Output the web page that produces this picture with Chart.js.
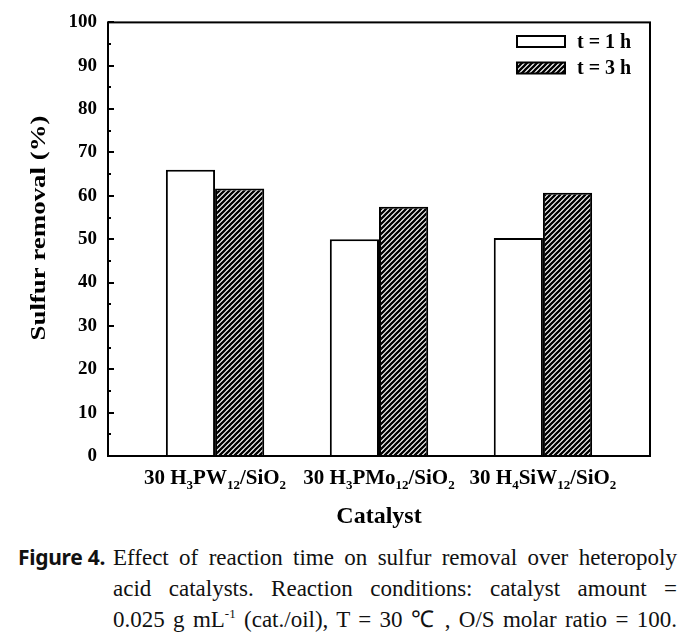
<!DOCTYPE html>
<html>
<head>
<meta charset="utf-8">
<script src="https://cdn.jsdelivr.net/npm/chart.js@4.4.1/dist/chart.umd.min.js"></script>
<style>
  html, body { margin: 0; padding: 0; background: #fff; }
  body { width: 687px; height: 642px; position: relative; overflow: hidden; }
  #wrap { position: absolute; left: 0; top: 0; width: 687px; height: 540px; }
  .cap { position: absolute; left: 113px; width: 564px; font-family: "Liberation Serif", serif;
         font-size: 23px; line-height: 23px; color: #111; text-align: justify; text-align-last: justify;
         white-space: nowrap; }
  .cap sup { font-size: 13px; line-height: 0; vertical-align: 9px; }
  #fig { position: absolute; right: 582px; top: 546px; font-family: "Noto Sans", sans-serif; font-weight: 700;
         font-size: 21px; line-height: 23px; color: #111; white-space: nowrap; letter-spacing: -0.3px; }
</style>
</head>
<body>
<div id="wrap"><canvas id="sulfur_chart"></canvas></div>
<div id="fig">Figure 4.</div>
<div class="cap" style="top:546px">Effect of reaction time on sulfur removal over heteropoly</div>
<div class="cap" style="top:577px">acid catalysts. Reaction conditions: catalyst amount =</div>
<div class="cap" style="top:608px">0.025 g mL<sup>-1</sup> (cat./oil), T = 30 ℃ , O/S molar ratio = 100.</div>
<script>
// data
var categories = ['30 H_3PW_12/SiO_2', '30 H_3PMo_12/SiO_2', '30 H_4SiW_12/SiO_2'];
var removal_1h = [66, 50, 50.3];
var removal_3h = [61.7, 57.5, 60.7];
var series_names = ['t = 1 h', 't = 3 h'];
var y_min = 0, y_max = 100, y_step = 10;

var serif = '"Liberation Serif", "Times New Roman", serif';

function hatch(){
    var c = document.createElement('canvas');
    c.width = 5; c.height = 5;
    var g = c.getContext('2d');
    g.fillStyle = '#fff';
    g.fillRect(0, 0, 5, 5);
    g.strokeStyle = '#000';
    g.lineWidth = 2.3;
    g.beginPath();
    g.moveTo(-1, 6); g.lineTo(6, -1);
    g.moveTo(-3, 3); g.lineTo(3, -3);
    g.moveTo(2, 8); g.lineTo(8, 2);
    g.stroke();
    return g.createPattern(c, 'repeat');
}
var hatchFill = hatch();

// draws text with "_12" style subscripts, centred on x
function drawSubText(ctx, str, x, y, size){
    var parts = str.split(/(_\d+)/).filter(function(s){ return s.length; });
    var segs = parts.map(function(p){
        var sub = p.charAt(0) == '_';
        return {t: sub ? p.slice(1) : p, sub: sub};
    });
    var total = 0;
    segs.forEach(function(s){
        ctx.font = 'bold ' + (s.sub ? Math.round(size * 0.62) : size) + 'px ' + serif;
        s.w = ctx.measureText(s.t).width;
        total += s.w;
    });
    var cx = x - total / 2;
    ctx.textAlign = 'left';
    ctx.textBaseline = 'alphabetic';
    segs.forEach(function(s){
        ctx.font = 'bold ' + (s.sub ? Math.round(size * 0.62) : size) + 'px ' + serif;
        ctx.fillText(s.t, cx, y + (s.sub ? 5 : 0));
        cx += s.w;
    });
}

var framePlugin = {
    id: 'frame',
    afterDraw: function(chart){
        var ctx = chart.ctx, a = chart.chartArea;
        var xs = chart.scales.x, ys = chart.scales.y;
        ctx.save();
        ctx.strokeStyle = '#000';
        ctx.lineWidth = 2;
        ctx.strokeRect(a.left, a.top, a.right - a.left, a.bottom - a.top);
        // inward ticks on the left axis
        ctx.beginPath();
        for (var v = y_min; v <= y_max; v += y_step / 2){
            var py = Math.round(ys.getPixelForValue(v));
            var len = (v % y_step == 0) ? 6 : 3;
            ctx.moveTo(a.left, py);
            ctx.lineTo(a.left + len, py);
        }
        ctx.stroke();

        ctx.fillStyle = '#000';
        categories.forEach(function(c, i){
            drawSubText(ctx, c, xs.getPixelForValue(i), 484, 21);
        });
        ctx.font = 'bold 24px ' + serif;
        ctx.textAlign = 'center';
        ctx.fillText('Catalyst', (a.left + a.right) / 2, 523);

        // y title, stretched a little like the original
        ctx.save();
        ctx.translate(39, 228);
        ctx.rotate(-Math.PI / 2);
        ctx.font = 'bold 22px ' + serif;
        var tw = ctx.measureText('Sulfur removal (%)').width;
        ctx.scale(225 / tw, 1);
        ctx.textBaseline = 'middle';
        ctx.fillText('Sulfur removal (%)', 0, 0);
        ctx.restore();

        // legend in the top right corner
        var fills = ['#fff', hatchFill];
        var rows = [41.5, 68];
        series_names.forEach(function(n, i){
            ctx.fillStyle = fills[i];
            ctx.fillRect(517, rows[i] - 5.5, 48, 11);
            ctx.lineWidth = 2;
            ctx.strokeRect(517, rows[i] - 5.5, 48, 11);
            ctx.fillStyle = '#000';
            ctx.font = 'bold 20px ' + serif;
            ctx.textAlign = 'left';
            ctx.textBaseline = 'middle';
            ctx.fillText(n, 577, rows[i] + 1);
        });
        ctx.restore();
    }
};

var ctx = document.getElementById('sulfur_chart').getContext('2d');
var myChart = new Chart(ctx, {
    type: 'bar',
    data: {
        datasets: [{
            label: series_names[0],
            data: removal_1h.map(function(v, i){ return {x: i, y: v}; }),
            backgroundColor: '#fff',
            borderColor: '#000',
            borderWidth: 2
        }, {
            label: series_names[1],
            data: removal_3h.map(function(v, i){ return {x: i, y: v}; }),
            backgroundColor: hatchFill,
            borderColor: '#000',
            borderWidth: 2
        }]
    },
    options: {
        responsive: true,
        maintainAspectRatio: false,
        animation: false,
        categoryPercentage: 0.6,
        barPercentage: 1.0,
        layout: { padding: { top: 17, right: 37, bottom: 0, left: 0 } },
        plugins: {
            legend: { display: false },
            tooltip: { enabled: false }
        },
        scales: {
            x: {
                type: 'linear',
                offset: false,
                min: -0.653,
                max: 2.653,
                afterBuildTicks: function(scale){
                    scale.ticks = categories.map(function(c, i){ return {value: i}; });
                },
                afterFit: function(scale){ scale.height = 84; },
                grid: { display: false, drawTicks: false },
                border: { display: false },
                ticks: { display: false }
            },
            y: {
                min: y_min,
                max: y_max,
                afterFit: function(scale){ scale.width = 108; },
                grid: { display: false, drawTicks: false },
                border: { display: false },
                ticks: {
                    stepSize: y_step,
                    padding: 11,
                    color: '#000',
                    font: { family: serif, weight: 'bold', size: 19 }
                }
            }
        }
    },
    plugins: [framePlugin]
});
</script>
</body>
</html>
